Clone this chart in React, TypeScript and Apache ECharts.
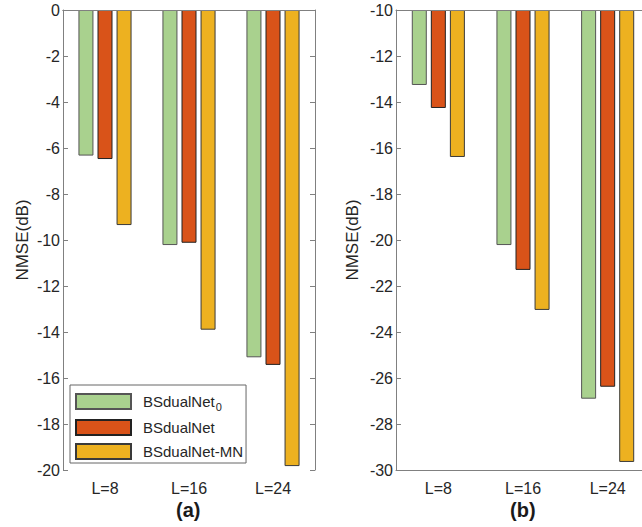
import React, { useEffect, useRef } from "react";
import * as echarts from "echarts";

const categories = ["L=8", "L=16", "L=24"];
const seriesNames = ["BSdualNet0", "BSdualNet", "BSdualNet-MN"];
// panel (a)
const aNet0 = [-6.33, -10.22, -15.1];
const aNet = [-6.48, -10.12, -15.43];
const aNetMN = [-9.35, -13.9, -19.83];
// panel (b)
const bNet0 = [-13.26, -20.22, -26.9];
const bNet = [-14.26, -21.3, -26.38];
const bNetMN = [-16.39, -23.04, -29.65];

const colors = ["#A9D18E", "#D95319", "#EDB120"];
const borders = ["#555555", "#222222", "#3a3a3a"];
const FONT = "Liberation Sans";
const TXT = "#262626";
const AX = "#808080";

export default function App() {
  const ref = useRef<HTMLDivElement>(null);
  useEffect(() => {
    const chart = echarts.init(ref.current!, undefined, { renderer: "svg" });
    const grids = [
      { left: 63, top: 10, width: 252, height: 460, outerBoundsMode: "none", containLabel: false },
      { left: 396, top: 10, width: 254, height: 460, outerBoundsMode: "none", containLabel: false },
    ];
    const xAxes: any[] = [];
    const yAxes: any[] = [];
    const ranges = [
      [-20, 0],
      [-30, -10],
    ];
    grids.forEach((_, gi) => {
      xAxes.push({
        type: "category",
        gridIndex: gi,
        data: categories,
        position: "bottom",
        z: 5,
        axisLine: { lineStyle: { color: AX, width: 1 } },
        axisTick: { inside: true, alignWithLabel: true, length: 4, lineStyle: { color: "#333" } },
        axisLabel: { color: TXT, fontSize: 16, fontFamily: FONT, margin: 10, lineHeight: 16 },
      });
      xAxes.push({
        type: "category",
        gridIndex: gi,
        data: categories,
        position: "top",
        z: 5,
        axisLine: { lineStyle: { color: AX, width: 1 } },
        axisTick: { inside: true, alignWithLabel: true, length: 4, lineStyle: { color: "#333" } },
        axisLabel: { show: false },
      });
      yAxes.push({
        type: "value",
        gridIndex: gi,
        min: ranges[gi][0],
        max: ranges[gi][1],
        interval: 2,
        startValue: ranges[gi][1],
        position: "left",
        z: 5,
        name: "NMSE(dB)",
        nameLocation: "middle",
        nameGap: gi === 0 ? 32 : 35,
        nameTextStyle: { color: TXT, fontSize: 17, fontFamily: FONT },
        splitLine: { show: false },
        axisLine: { show: true, lineStyle: { color: AX, width: 1 } },
        axisTick: { show: true, inside: true, length: 5, lineStyle: { color: AX } },
        axisLabel: { color: TXT, fontSize: 16, fontFamily: FONT, margin: 3 },
      });
      yAxes.push({
        type: "value",
        gridIndex: gi,
        min: ranges[gi][0],
        max: ranges[gi][1],
        interval: 2,
        position: "right",
        z: 5,
        splitLine: { show: false },
        axisLine: { show: true, lineStyle: { color: AX, width: 1 } },
        axisTick: { show: true, inside: true, length: 5, lineStyle: { color: AX } },
        axisLabel: { show: false },
      });
    });
    const dataA = [aNet0, aNet, aNetMN];
    const dataB = [bNet0, bNet, bNetMN];
    const series: any[] = [];
    [dataA, dataB].forEach((set, gi) => {
      set.forEach((vals, si) => {
        series.push({
          type: "bar",
          name: seriesNames[si],
          xAxisIndex: gi * 2,
          yAxisIndex: gi * 2,
          data: vals,
          barWidth: 15,
          barGap: "27%",
          clip: true,
          itemStyle: { color: colors[si], borderColor: borders[si], borderWidth: 1 },
        });
      });
    });
    chart.setOption({
      animation: false,
      backgroundColor: "#ffffff",
      grid: grids,
      xAxis: xAxes,
      yAxis: yAxes,
      series,
      legend: {
        data: seriesNames,
        orient: "vertical",
        left: 70,
        top: 385,
        padding: [8, 3, 3, 5],
        itemWidth: 55,
        itemHeight: 15,
        itemGap: 7,
        backgroundColor: "#ffffff",
        borderColor: "#666666",
        borderWidth: 1,
        icon: "rect",
        textStyle: {
          color: TXT,
          fontSize: 15,
          fontFamily: FONT,
          padding: [0, 0, 0, 7],
          rich: {
            n: { color: TXT, fontSize: 15, fontFamily: FONT },
            s: { color: TXT, fontSize: 11, fontFamily: FONT, padding: [10, 0, 0, 1] },
          },
        },
        formatter: (name: string) =>
          name === "BSdualNet0" ? "{n|BSdualNet}{s|0}" : "{n|" + name + "}",
      },
      graphic: [
        {
          type: "text",
          left: 176,
          top: 500,
          style: { text: "(a)", fontSize: 20, fontWeight: "bold", fontFamily: FONT, fill: "#1a1a1a" },
        },
        {
          type: "text",
          left: 510,
          top: 500,
          style: { text: "(b)", fontSize: 20, fontWeight: "bold", fontFamily: FONT, fill: "#1a1a1a" },
        },
      ],
    });
    return () => chart.dispose();
  }, []);
  return (
    <div
      ref={ref}
      style={{ position: "absolute", left: 0, top: 0, width: 642, height: 527 }}
    />
  );
}
